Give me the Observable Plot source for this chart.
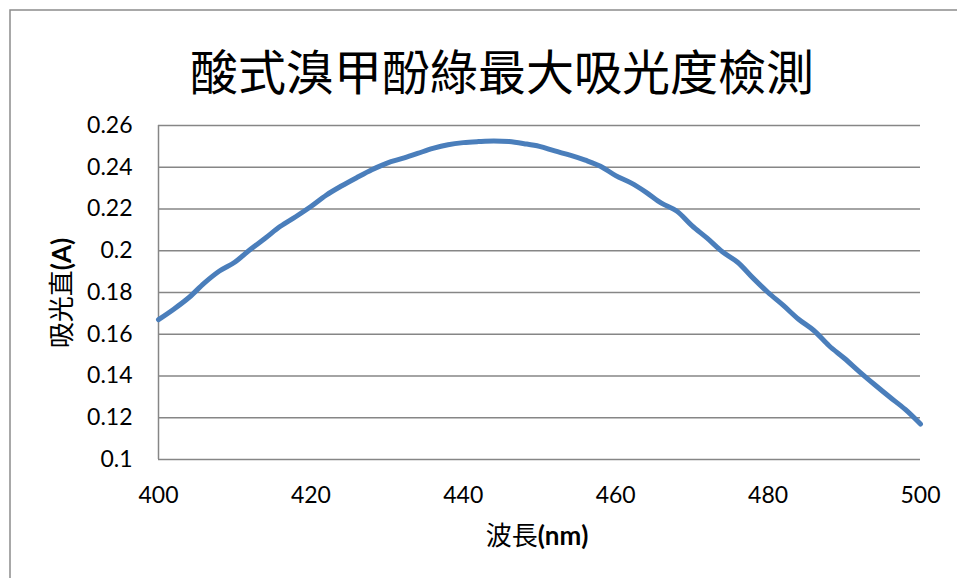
<!DOCTYPE html>
<html>
<head>
<meta charset="utf-8">
<script src="https://cdn.jsdelivr.net/npm/d3@7"></script>
<script src="https://cdn.jsdelivr.net/npm/@observablehq/plot@0.6"></script>
<style>
  html, body { margin: 0; padding: 0; background: #fff; }
  #chart svg { display: block; }
</style>
</head>
<body>
<div id="chart"></div>
<script>
// Absorbance scan of bromocresol green (acid form), 400–500 nm
const wavelengths = [
  400, 402, 404, 406, 408, 410, 412, 414, 416, 418,
  420, 422, 424, 426, 428, 430, 432, 434, 436, 438,
  440, 442, 444, 446, 448, 450, 452, 454, 456, 458,
  460, 462, 464, 466, 468, 470, 472, 474, 476, 478,
  480, 482, 484, 486, 488, 490, 492, 494, 496, 498, 500
];
const absorbance = [
  0.1670, 0.1720, 0.1776, 0.1845, 0.1903, 0.1945, 0.2005, 0.2060, 0.2117, 0.2163,
  0.2212, 0.2266, 0.2310, 0.2350, 0.2388, 0.2420, 0.2442, 0.2466, 0.2490, 0.2508,
  0.2518, 0.2523, 0.2526, 0.2523, 0.2513, 0.2500, 0.2478, 0.2458, 0.2434, 0.2405,
  0.2360, 0.2325, 0.2280, 0.2228, 0.2190, 0.2120, 0.2060, 0.1995, 0.1945, 0.1870,
  0.1800, 0.1738, 0.1672, 0.1618, 0.1545, 0.1485, 0.1420, 0.1358, 0.1298, 0.1240, 0.1170
];
const yTicks = [0.1, 0.12, 0.14, 0.16, 0.18, 0.2, 0.22, 0.24, 0.26];
const xTicks = [400, 420, 440, 460, 480, 500];
const chartTitle = "酸式溴甲酚綠最大吸光度檢測";
const xTitle = ["波長", "(nm)"];
const yTitle = ["吸光直", "(A)"];

const data = wavelengths.map((w, i) => ({ w, a: absorbance[i] }));
const grid = "#868686";
const latin = "Lato, 'Noto Sans CJK TC', sans-serif";
const cjk = "'Noto Sans CJK TC', sans-serif";

const chart = Plot.plot({
  width: 957,
  height: 578,
  marginLeft: 158,
  marginRight: 37,
  marginTop: 125,
  marginBottom: 119,
  style: { fontFamily: latin, fontSize: "23px", color: "#000", background: "#fff", overflow: "visible" },
  x: { domain: [400, 500] },
  y: { domain: [0.1, 0.26] },
  marks: [
    Plot.gridY(yTicks, { stroke: grid, strokeOpacity: 1, strokeWidth: 1.5 }),
    Plot.ruleX([400], { stroke: grid, strokeWidth: 1.5 }),
    Plot.axisY(yTicks, {
      tickSize: 0, tickPadding: 26, label: null, fontSize: 23,
      tickFormat: d => String(+d.toFixed(2)), fill: "#000"
    }),
    Plot.axisX(xTicks, { tickSize: 0, tickPadding: 27, label: null, fontSize: 23, fill: "#000" }),
    Plot.line(data, { x: "w", y: "a", stroke: "#4a7ebb", strokeWidth: 5, curve: "catmull-rom" })
  ]
});

const svg = d3.select(chart);

// outer chart-area border
svg.insert("rect", ":first-child")
  .attr("x", 10).attr("y", 10)
  .attr("width", 1000).attr("height", 1000)
  .attr("fill", "none").attr("stroke", "#8c8c8c").attr("stroke-width", 1.5);

// chart title
svg.append("text")
  .attr("x", 502).attr("y", 90)
  .attr("text-anchor", "middle")
  .attr("font-family", cjk)
  .attr("font-size", 48)
  .attr("fill", "#000")
  .text(chartTitle);

// x axis title
const xt = svg.append("text")
  .attr("x", 537).attr("y", 545)
  .attr("text-anchor", "middle")
  .attr("font-size", 26)
  .attr("fill", "#000");
xt.append("tspan").attr("font-family", cjk).text(xTitle[0]);
xt.append("tspan").attr("font-family", latin).attr("font-weight", "bold").text(xTitle[1]);

// y axis title
const yt = svg.append("text")
  .attr("transform", "translate(71,293) rotate(-90)")
  .attr("text-anchor", "middle")
  .attr("font-size", 26)
  .attr("fill", "#000");
yt.append("tspan").attr("font-family", cjk).text(yTitle[0]);
yt.append("tspan").attr("font-family", latin).attr("font-weight", "bold").text(yTitle[1]);

document.getElementById("chart").appendChild(chart);
</script>
</body>
</html>
